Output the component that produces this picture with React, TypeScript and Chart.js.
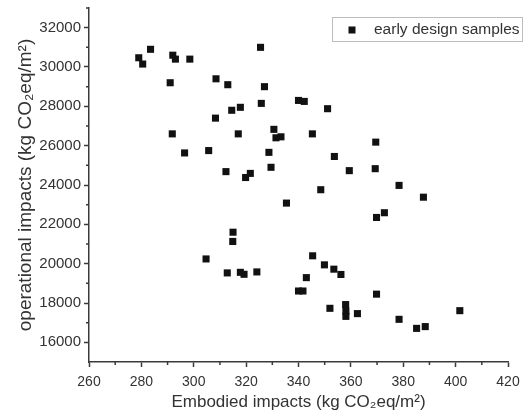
import React, { useEffect, useRef } from "react";
import { Chart, registerables } from "chart.js";

Chart.register(...registerables);

const SERIES_LABEL = "early design samples";
const X_TITLE = "Embodied impacts (kg CO₂eq/m²)";
const Y_TITLE = "operational impacts (kg CO₂eq/m²)";

const embodied = [
  279, 280.5, 283.5, 292, 293, 298.5, 291, 308.5, 313, 314.5,
  317.8, 308.3, 291.8, 317, 296.5, 305.7, 312.3, 319.8, 321.6, 325.5,
  325.8, 327, 340, 342.2, 351.1, 330.6, 331.4, 333.3, 345.3, 369.5,
  328.7, 353.7, 329.5, 359.4, 369.3, 348.5, 378.4, 387.7, 335.4, 369.8,
  372.8, 345.4, 349.9, 353.5, 356.2, 343, 340, 341.7, 369.8, 352,
  358, 358.1, 358.1, 362.5, 378.4, 385.1, 388.4, 401.6, 304.7, 315,
  314.9, 312.8, 317.8, 319.2, 324.1,
];
const operational = [
  30470, 30150, 30900, 30600, 30400, 30400, 29200, 29400, 29100, 27800,
  27950, 27400, 26600, 26600, 25630, 25750, 24680, 24380, 24590, 31000,
  28150, 29000, 28300, 28250, 27880, 26830, 26400, 26450, 26600, 26180,
  25660, 25450, 24900, 24730, 24830, 23760, 23980, 23380, 23080, 22350,
  22590, 20400, 19940, 19720, 19450, 19290, 18610, 18610, 18450, 17730,
  17920, 17590, 17320, 17460, 17170, 16710, 16800, 17610, 20240, 21600,
  21130, 19530, 19560, 19460, 19580,
];

const X_TICKS = [260, 280, 300, 320, 340, 360, 380, 400, 420];
const X_MINOR = [270, 290, 310, 330, 350, 370, 390, 410];
const Y_TICKS = [16000, 18000, 20000, 22000, 24000, 26000, 28000, 30000, 32000];
const Y_MINOR = [17000, 19000, 21000, 23000, 25000, 27000, 29000, 31000, 33000];

const FONT = "'Liberation Sans', Arial, Helvetica, sans-serif";
const AXIS = "#3a3a3a";
const TEXT = "#333333";

const minorTicksPlugin = {
  id: "minorTicks",
  afterDraw(chart: any) {
    const { ctx, chartArea } = chart;
    const xs = chart.scales.x;
    const ys = chart.scales.y;
    ctx.save();
    ctx.strokeStyle = AXIS;
    ctx.lineWidth = 1.5;
    ctx.beginPath();
    for (const v of X_MINOR) {
      const px = xs.getPixelForValue(v);
      ctx.moveTo(px, chartArea.bottom);
      ctx.lineTo(px, chartArea.bottom + 3);
    }
    for (const v of Y_MINOR) {
      const py = ys.getPixelForValue(v);
      ctx.moveTo(chartArea.left, py);
      ctx.lineTo(chartArea.left - 3, py);
    }
    ctx.stroke();
    ctx.restore();
  },
};

const legendPlugin = {
  id: "boxLegend",
  afterDraw(chart: any) {
    const { ctx } = chart;
    const label = chart.data.datasets[0].label;
    ctx.save();
    ctx.strokeStyle = "#bdbdbd";
    ctx.lineWidth = 1;
    ctx.strokeRect(332.5, 17.5, 190, 24);
    ctx.fillStyle = "#111";
    ctx.fillRect(348.5, 26.5, 7, 7);
    ctx.fillStyle = TEXT;
    ctx.font = `15.5px ${FONT}`;
    ctx.textBaseline = "middle";
    ctx.textAlign = "left";
    ctx.fillText(label, 374, 30);
    ctx.restore();
  },
};

export default function App() {
  const ref = useRef<HTMLCanvasElement | null>(null);

  useEffect(() => {
    if (!ref.current) return;
    const points = embodied.map((x, i) => ({ x, y: operational[i] }));
    const chart = new Chart(ref.current, {
      type: "scatter",
      data: {
        datasets: [
          {
            label: SERIES_LABEL,
            data: points,
            pointStyle: "rect",
            pointRadius: 5,
            pointHoverRadius: 5,
            backgroundColor: "#111",
            borderColor: "#111",
            borderWidth: 0,
          },
        ],
      },
      options: {
        responsive: false,
        animation: false,
        layout: { padding: { left: 14, top: 8, right: 16, bottom: 0 } },
        plugins: {
          legend: { display: false },
          tooltip: { enabled: false },
        },
        scales: {
          x: {
            type: "linear",
            min: 260,
            max: 420,
            afterBuildTicks: (s: any) => {
              s.ticks = X_TICKS.map((v) => ({ value: v }));
            },
            afterFit: (s: any) => {
              s.height = 54;
              s.paddingLeft = 0;
              s.paddingRight = 0;
            },
            grid: {
              display: true,
              drawOnChartArea: false,
              drawTicks: true,
              tickLength: 5,
              tickWidth: 1.5,
              tickColor: AXIS,
            },
            border: { display: true, color: AXIS, width: 1.5 },
            ticks: {
              color: TEXT,
              font: { family: FONT, size: 14 },
              padding: 7,
              maxRotation: 0,
              autoSkip: false,
            },
            title: {
              display: true,
              text: X_TITLE,
              color: TEXT,
              font: { family: FONT, size: 17 },
              padding: { top: 0, bottom: 3 },
            },
          },
          y: {
            type: "linear",
            min: 15000,
            max: 33000,
            afterBuildTicks: (s: any) => {
              s.ticks = Y_TICKS.map((v) => ({ value: v }));
            },
            afterFit: (s: any) => {
              s.width = 75;
              s.paddingTop = 0;
              s.paddingBottom = 0;
            },
            grid: {
              display: true,
              drawOnChartArea: false,
              drawTicks: true,
              tickLength: 5,
              tickWidth: 1.5,
              tickColor: AXIS,
            },
            border: { display: true, color: AXIS, width: 1.5 },
            ticks: {
              color: TEXT,
              font: { family: FONT, size: 15 },
              padding: 3,
              autoSkip: false,
              callback: (v: any) => String(v),
            },
            title: {
              display: true,
              text: Y_TITLE,
              color: TEXT,
              font: { family: FONT, size: 19 },
              padding: { top: 0, bottom: 0 },
            },
          },
        },
      },
      plugins: [minorTicksPlugin, legendPlugin],
    });
    return () => chart.destroy();
  }, []);

  return (
    <div style={{ position: "absolute", left: 0, top: 0, width: 524, height: 416, background: "#fff" }}>
      <canvas ref={ref} width={524} height={416} style={{ display: "block" }} />
    </div>
  );
}
